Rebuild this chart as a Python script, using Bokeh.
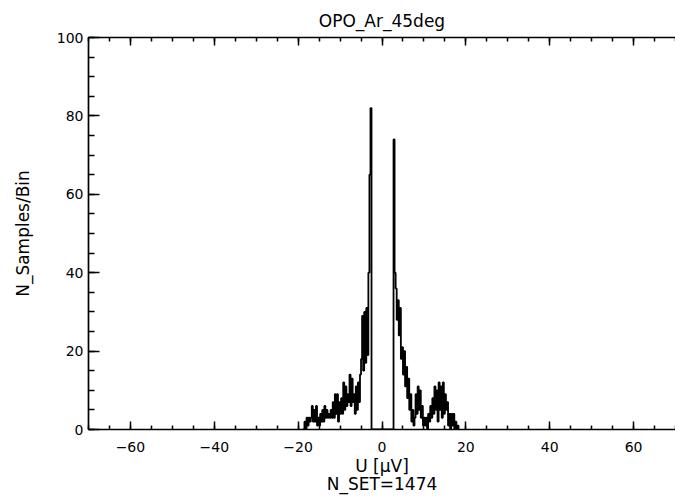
from bokeh.plotting import figure
from bokeh.models import FixedTicker, LinearAxis, Range1d, CustomJSTickFormatter
from bokeh.embed import file_html
from bokeh.resources import INLINE

# ---- data -------------------------------------------------------------
title_text = "OPO_Ar_45deg"
x_label = "U [\u03bcV]"
y_label = "N_Samples/Bin"
nset_text = "N_SET=1474"

bin_start = -19.0      # left edge of first bin (uV)
bin_width = 0.25       # uV

counts = [
    0, 0, 2, 0,      # -19
    3, 1, 3, 2,      # -18
    3, 6, 2, 5,      # -17
    2, 6, 1, 3,      # -16
    1, 4, 2, 5,      # -15
    2, 6, 3, 5,      # -14
    3, 4, 3, 5,      # -13
    3, 7, 3, 9,      # -12
    4, 9, 2, 7,      # -11
    4, 8, 4, 12,     # -10
    5, 11, 6, 9,     # -9
    7, 14, 6, 13,    # -8
    7, 9, 4, 11,     # -7
    5, 12, 7, 14,    # -6
    18, 29, 15, 30,  # -5
    17, 31, 19, 40,  # -4
    65, 82, 0, 0,    # -3
    0, 0, 0, 0,      # -2
    0, 0, 0, 0,      # -1
    0, 0, 0, 0,      # 0
    0, 0, 0, 0,      # 1
    0, 0, 0, 74,     # 2
    40, 36, 28, 33,  # 3
    24, 31, 18, 21,  # 4
    14, 20, 11, 16,  # 5
    8, 13, 5, 9,     # 6
    2, 5, 1, 3,      # 7
    9, 4, 11, 5,     # 8
    10, 3, 6, 1,     # 9
    3, 1, 3, 0,      # 10
    4, 2, 6, 3,      # 11
    8, 4, 11, 5,     # 12
    10, 2, 12, 5,    # 13
    11, 3, 12, 4,    # 14
    9, 5, 7, 1,      # 15
    4, 0, 4, 1,      # 16
    4, 0, 2, 0,      # 17
    1, 0,            # 18
]

x_major = [-60, -40, -20, 0, 20, 40, 60]
x_minor = list(range(-70, 71, 5))
y_major = [0, 20, 40, 60, 80, 100]
y_minor = list(range(0, 101, 5))
x_limits = (-70, 70)
y_limits = (0, 100)

centers = [bin_start + bin_width * (i + 0.5) for i in range(len(counts))]

# ---- figure -----------------------------------------------------------
FONT = "DejaVu Sans"

p = figure(width=675, height=498, output_backend="svg", toolbar_location=None,
           x_range=Range1d(*x_limits), y_range=Range1d(*y_limits),
           min_border_left=88, min_border_right=0, min_border_top=37,
           min_border_bottom=69)
p.grid.visible = False
p.outline_line_color = None
p.background_fill_color = "white"
p.border_fill_color = "white"

p.title.text = title_text
p.title.align = "center"
p.title.vertical_align = "top"
p.title.text_font = FONT
p.title.text_font_size = "17px"
p.title.text_font_style = "normal"
p.title.text_color = "black"
p.title.text_line_height = 1.0
p.title.standoff = 10

p.step(x=centers, y=counts, mode="center", line_color="black", line_width=1.8)

def style_axis(ax, ticks, minor, tin, mtin):
    ax.ticker = FixedTicker(ticks=ticks, minor_ticks=minor)
    ax.axis_line_color = "black"
    ax.axis_line_width = 1.7
    ax.major_tick_line_color = "black"
    ax.major_tick_line_width = 1.5
    ax.minor_tick_line_color = "black"
    ax.minor_tick_line_width = 1.5
    ax.major_tick_in = tin
    ax.major_tick_out = 0
    ax.minor_tick_in = mtin
    ax.minor_tick_out = 0
    ax.major_label_text_font = FONT
    ax.major_label_text_font_size = "14px"
    ax.major_label_text_color = "black"
    ax.axis_label_text_font = FONT
    ax.axis_label_text_font_size = "17px"
    ax.axis_label_text_font_style = "normal"
    ax.axis_label_text_color = "black"

xax = p.xaxis[0]
style_axis(xax, x_major, x_minor, 8, 4)
xax.major_label_standoff = 12
xax.axis_label = x_label + "\n" + nset_text
xax.axis_label_text_line_height = 0.9
xax.axis_label_standoff = 1

yax = p.yaxis[0]
style_axis(yax, y_major, y_minor, 11, 6)
yax.major_label_standoff = 5
yax.axis_label = y_label
yax.axis_label_standoff = 21

top = LinearAxis()
style_axis(top, x_major, x_minor, 8, 4)
top.formatter = CustomJSTickFormatter(code="return ''")
top.major_label_standoff = 0
p.add_layout(top, "above")

open("out.html", "w").write(file_html(p, INLINE))
